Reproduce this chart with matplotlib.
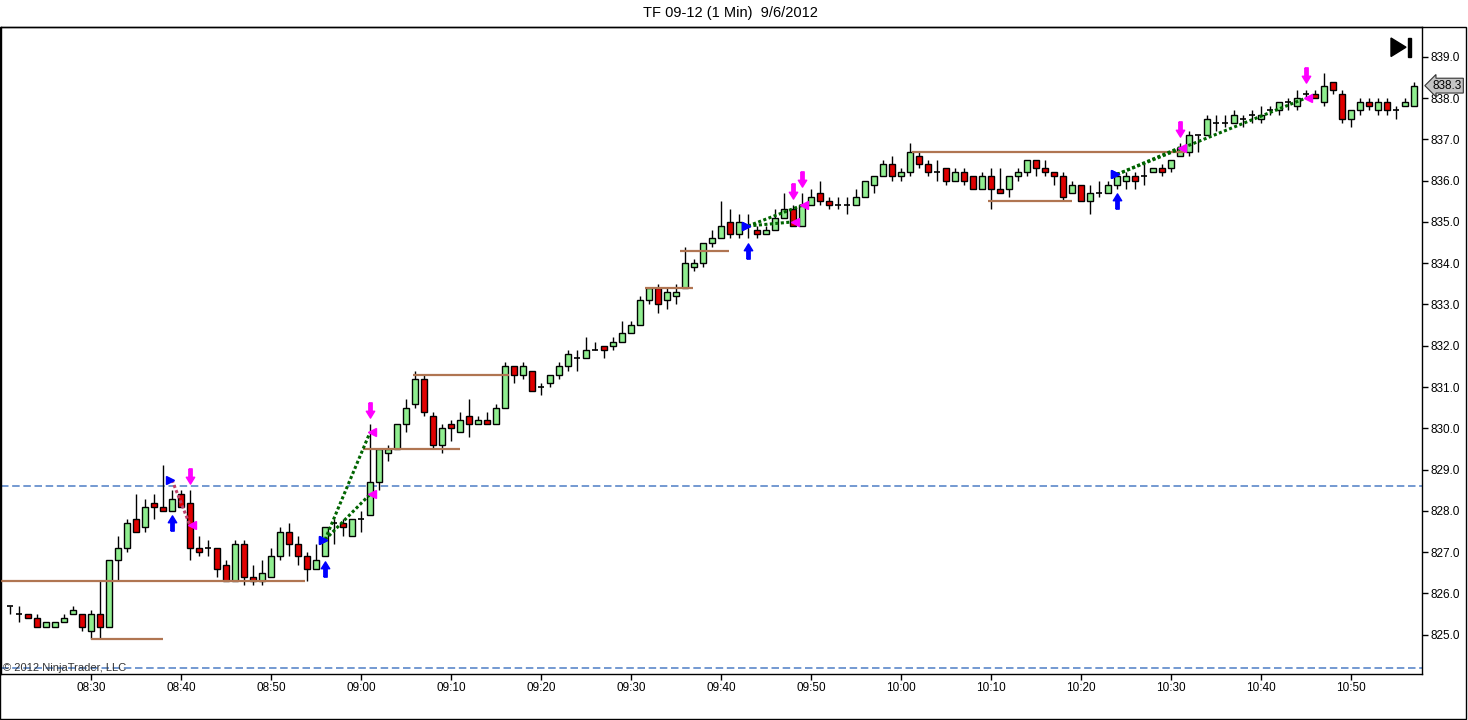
import matplotlib
matplotlib.use("Agg")
import matplotlib.pyplot as plt
import numpy as np
import pandas as pd
from matplotlib.patches import Polygon, Rectangle
import matplotlib.transforms as mtransforms

plt.rcParams['font.family'] = ['Liberation Sans', 'DejaVu Sans']

# 1 minute bars, TF 09-12, from 08:21
start_time = "2012-09-06 08:21"
opens = [825.7, 825.5, 825.5, 825.4, 825.2, 825.2, 825.3, 825.5, 825.5, 825.1,
         825.5, 825.2, 826.8, 827.1, 827.8, 827.6, 828.2, 828.1, 828.0, 828.4,
         828.2, 827.1, 827.1, 827.1, 826.7, 826.3, 827.2, 826.4, 826.3, 826.4,
         826.9, 827.5, 827.2, 826.9, 826.6, 826.9, 827.7, 827.7, 827.4, 827.8,
         827.9, 828.7, 829.4, 829.5, 830.1, 830.6, 831.2, 830.3, 829.6, 830.1,
         829.9, 830.3, 830.1, 830.2, 830.1, 830.5, 831.5, 831.3, 831.4, 831.0,
         831.1, 831.3, 831.5, 831.7, 831.7, 831.9, 832.0, 832.0, 832.1, 832.3,
         832.5, 833.1, 833.4, 833.1, 833.2, 833.4, 833.9, 834.0, 834.5, 834.6,
         835.0, 834.7, 834.9, 834.8, 834.7, 834.8, 835.1, 835.3, 834.9, 835.4,
         835.7, 835.5, 835.4, 835.4, 835.4, 835.6, 835.9, 836.1, 836.4, 836.1,
         836.2, 836.6, 836.4, 836.2, 836.3, 836.0, 836.2, 836.1, 835.8, 836.1,
         835.8, 835.8, 836.1, 836.2, 836.5, 836.3, 836.2, 836.1, 835.7, 835.9,
         835.5, 835.7, 835.7, 835.9, 836.0, 836.1, 836.1, 836.2, 836.3, 836.3,
         836.6, 836.7, 837.1, 837.1, 837.4, 837.4, 837.4, 837.5, 837.6, 837.5,
         837.7, 837.7, 837.9, 837.8, 838.1, 838.1, 837.9, 838.4, 838.1, 837.5,
         837.7, 837.9, 837.7, 837.9, 837.7, 837.8, 837.8]
highs = [825.7, 825.7, 825.5, 825.5, 825.3, 825.3, 825.5, 825.7, 825.5, 825.6,
         826.3, 826.8, 827.4, 827.8, 828.4, 828.3, 828.4, 829.1, 828.5, 828.5,
         828.5, 827.4, 827.3, 827.1, 826.8, 827.3, 827.3, 826.7, 826.8, 827.1,
         827.6, 827.7, 827.4, 827.0, 827.2, 827.6, 827.8, 827.8, 827.8, 828.0,
         830.1, 829.5, 829.6, 830.1, 830.7, 831.4, 831.3, 830.4, 830.1, 830.2,
         830.4, 830.7, 830.3, 830.4, 830.6, 831.6, 831.5, 831.6, 831.4, 831.1,
         831.3, 831.6, 831.9, 831.9, 832.2, 832.1, 832.0, 832.2, 832.6, 832.6,
         833.2, 833.4, 833.5, 833.4, 833.5, 834.4, 834.1, 834.5, 834.8, 835.5,
         835.3, 835.2, 835.2, 834.9, 834.9, 835.3, 835.7, 835.4, 835.7, 835.8,
         836.0, 835.6, 835.6, 835.6, 835.8, 836.0, 836.1, 836.5, 836.6, 836.3,
         836.9, 836.7, 836.5, 836.5, 836.3, 836.3, 836.3, 836.1, 836.2, 836.3,
         836.3, 836.1, 836.3, 836.5, 836.5, 836.5, 836.2, 836.2, 836.0, 835.9,
         835.9, 836.0, 836.0, 836.2, 836.2, 836.2, 836.4, 836.3, 836.4, 836.5,
         836.9, 837.2, 837.1, 837.6, 837.6, 837.6, 837.7, 837.6, 837.7, 837.8,
         837.8, 837.9, 838.0, 838.2, 838.2, 838.2, 838.6, 838.4, 838.2, 837.7,
         838.0, 838.0, 838.0, 838.0, 837.8, 838.0, 838.4]
lows = [825.5, 825.3, 825.4, 825.2, 825.2, 825.2, 825.3, 825.5, 825.1, 824.9,
        824.9, 825.2, 826.3, 827.0, 827.5, 827.5, 827.8, 828.0, 828.0, 828.1,
        826.8, 826.9, 826.9, 826.4, 826.3, 826.3, 826.2, 826.2, 826.2, 826.4,
        826.8, 826.9, 826.7, 826.3, 826.6, 826.9, 827.2, 827.4, 827.4, 827.5,
        827.9, 828.5, 829.2, 829.5, 829.9, 830.5, 830.3, 829.5, 829.4, 829.7,
        829.9, 829.8, 830.1, 830.1, 830.1, 830.5, 831.1, 831.2, 830.9, 830.8,
        831.0, 831.2, 831.4, 831.4, 831.7, 831.9, 831.7, 831.9, 832.1, 832.3,
        832.5, 833.0, 832.8, 832.9, 833.0, 833.4, 833.8, 833.9, 834.4, 834.6,
        834.6, 834.6, 834.6, 834.6, 834.7, 834.8, 835.1, 834.9, 834.9, 835.4,
        835.4, 835.3, 835.3, 835.2, 835.4, 835.6, 835.7, 836.1, 836.0, 836.0,
        836.1, 836.3, 836.1, 836.0, 835.9, 836.0, 835.9, 835.8, 835.8, 835.3,
        835.7, 835.6, 836.0, 836.1, 836.1, 836.1, 835.9, 835.5, 835.7, 835.5,
        835.2, 835.6, 835.7, 835.8, 835.8, 835.8, 835.9, 836.2, 836.1, 836.2,
        836.6, 836.6, 836.7, 837.1, 837.2, 837.3, 837.4, 837.3, 837.4, 837.4,
        837.6, 837.6, 837.7, 837.7, 838.0, 838.0, 837.8, 838.1, 837.4, 837.3,
        837.6, 837.7, 837.6, 837.6, 837.5, 837.8, 837.8]
closes = [825.7, 825.5, 825.4, 825.2, 825.3, 825.3, 825.4, 825.6, 825.2, 825.5,
          825.2, 826.8, 827.1, 827.7, 827.5, 828.1, 828.1, 828.0, 828.3, 828.1,
          827.1, 827.0, 827.1, 826.6, 826.3, 827.2, 826.4, 826.3, 826.5, 826.9,
          827.5, 827.2, 826.9, 826.6, 826.8, 827.6, 827.7, 827.6, 827.8, 827.8,
          828.7, 829.5, 829.5, 830.1, 830.5, 831.2, 830.4, 829.6, 830.0, 830.0,
          830.2, 830.1, 830.2, 830.1, 830.5, 831.5, 831.3, 831.5, 830.9, 831.0,
          831.3, 831.5, 831.8, 831.7, 831.9, 831.9, 831.9, 832.1, 832.3, 832.5,
          833.1, 833.4, 833.0, 833.3, 833.3, 834.0, 834.0, 834.5, 834.6, 834.9,
          834.7, 835.0, 834.9, 834.7, 834.8, 835.1, 835.3, 834.9, 835.4, 835.6,
          835.5, 835.4, 835.4, 835.4, 835.6, 836.0, 836.1, 836.4, 836.1, 836.2,
          836.7, 836.4, 836.2, 836.2, 836.0, 836.2, 836.0, 835.8, 836.1, 835.8,
          835.7, 836.1, 836.2, 836.5, 836.3, 836.2, 836.1, 835.6, 835.9, 835.5,
          835.7, 835.7, 835.9, 836.1, 836.1, 836.0, 836.1, 836.3, 836.2, 836.5,
          836.8, 837.1, 837.1, 837.5, 837.4, 837.4, 837.6, 837.5, 837.6, 837.6,
          837.7, 837.9, 837.9, 838.0, 838.1, 838.0, 838.3, 838.2, 837.5, 837.7,
          837.9, 837.8, 837.9, 837.7, 837.7, 837.9, 838.3]

# horizontal session levels: price, first bar, last bar
level_prices = [826.3, 824.9, 829.5, 831.3, 833.4, 834.3, 836.7, 835.5]
level_from = [-1.0, 9.0, 39.2, 44.8, 70.6, 74.4, 100.2, 108.7]
level_to = [32.8, 17.0, 50.0, 55.5, 75.9, 79.9, 130.6, 118.0]

# dashed blue lines
dash_levels = [828.6, 824.2]

# trades: entry bar, entry price, exit bar, exit price, winner?
trade_entry_bar = [18, 35, 35, 82, 82, 123, 123]
trade_entry_px = [828.75, 827.3, 827.3, 834.9, 834.9, 836.15, 836.15]
trade_exit_bar = [20, 40, 40, 87, 88, 130, 144]
trade_exit_px = [827.65, 829.9, 828.4, 835.0, 835.4, 836.8, 838.0]
trade_win = [False, True, True, True, True, True, True]

buy_bars = [18, 35, 82, 123]
sell_bars = [20, 40, 87, 88, 130, 144]

last_price = 838.3

times = pd.date_range(start_time, periods=len(opens), freq="1min")
x = np.arange(len(opens))
o = np.array(opens)
h = np.array(highs)
l = np.array(lows)
c = np.array(closes)

fig = plt.figure(figsize=(14.68, 7.2), dpi=100)
W, H = 1468.0, 720.0
ax = fig.add_axes([1 / W, 46 / H, 1421 / W, 647 / H])

# candles
ax.vlines(x, l, h, color='black', linewidth=1, zorder=2)
up = c > o
dn = c < o
flat = c == o
bw = 0.7
ax.bar(x[up], (c - o)[up], bottom=o[up], width=bw, color='#90EE90',
       edgecolor='black', linewidth=1, zorder=3)
ax.bar(x[dn], (o - c)[dn], bottom=c[dn], width=bw, color='#E00000',
       edgecolor='black', linewidth=1, zorder=3)
ax.hlines(c[flat], x[flat] - bw / 2, x[flat] + bw / 2, color='black',
          linewidth=1.2, zorder=3)

for yv in dash_levels:
    ax.axhline(yv, color='#5B87C9', linewidth=1.2, dashes=(4.5, 2.2), zorder=1)

for p, a, b in zip(level_prices, level_from, level_to):
    ax.hlines(p, a, b, color='#B07552', linewidth=1.6, zorder=4)

# trade lines
for eb, ep, xb, xp, win in zip(trade_entry_bar, trade_entry_px, trade_exit_bar,
                               trade_exit_px, trade_win):
    col = '#006400' if win else '#C0406A'
    ax.plot([eb, xb], [ep, xp], color=col, linewidth=2.2,
            linestyle=(0, (1, 0.8)), zorder=5)

# entry / exit triangles
ax.plot(np.array(trade_entry_bar) - 0.25, trade_entry_px, linestyle='none',
        marker='>', markersize=5.5, color='#0000FF', zorder=6)
ax.plot(np.array(trade_exit_bar) + 0.25, trade_exit_px, linestyle='none',
        marker='<', markersize=5.5, color='#FF00FF', zorder=6)

# buy / sell arrows
up_arrow = [(-0.22, -1), (0.22, -1), (0.22, 0.1), (0.55, 0.1), (0, 1),
            (-0.55, 0.1), (-0.22, 0.1), (-0.22, -1)]
down_arrow = [(px, -py) for px, py in up_arrow]
bb = np.array(buy_bars)
sb = np.array(sell_bars)
ax.plot(bb, l[bb] - 0.3, linestyle='none', marker=up_arrow, markersize=11,
        color='#0000FF', zorder=6)
ax.plot(sb, h[sb] + 0.35, linestyle='none', marker=down_arrow, markersize=11,
        color='#FF00FF', zorder=6)

ax.set_xlim(-1, 156.9)
ax.set_ylim(824.05, 839.72)

tick_idx = [i for i, t in enumerate(times) if t.minute % 10 == 0]
ax.set_xticks(tick_idx)
ax.set_xticklabels([times[i].strftime("%H:%M") for i in tick_idx])
ax.set_yticks(np.arange(825, 839.5, 1.0))
ax.yaxis.set_major_formatter(matplotlib.ticker.FormatStrFormatter('%.1f'))
ax.yaxis.tick_right()
ax.tick_params(axis='both', direction='out', length=4, width=1,
               labelsize=8.5, colors='black', pad=2)
for s in ax.spines.values():
    s.set_linewidth(1)
    s.set_color('black')

# last price box
trans = mtransforms.blended_transform_factory(ax.transAxes, ax.transData)
ax.text(1.0075, last_price, f"{last_price:.1f}", transform=trans, fontsize=8.5,
        va='center', ha='left',
        bbox=dict(boxstyle='larrow,pad=0.12', fc='#C4C4C4', ec='#333333', lw=0.8),
        zorder=7, clip_on=False)

# go to end icon
fig.add_artist(Polygon([(1391 / W, 1 - 38 / H), (1391 / W, 1 - 56.5 / H),
                        (1406 / W, 1 - 47.2 / H)], closed=True, color='black'))
fig.add_artist(Rectangle((1408 / W, 1 - 56.5 / H), 3.3 / W, 18.5 / H, color='black'))

# frame and title
fig.add_artist(Rectangle((0.4 / W, 0.6 / H), 1466 / W, 692.5 / H, fill=False,
                         ec='black', lw=1))
fig.text(730 / W, 1 - 13 / H, "TF 09-12 (1 Min)  9/6/2012", ha='center',
         va='center', fontsize=10.5)
fig.text(3 / W, 1 - 668 / H, "\u00a9 2012 NinjaTrader, LLC", ha='left',
         va='center', fontsize=8, color='#333333')

fig.savefig("out.png", dpi=100)
